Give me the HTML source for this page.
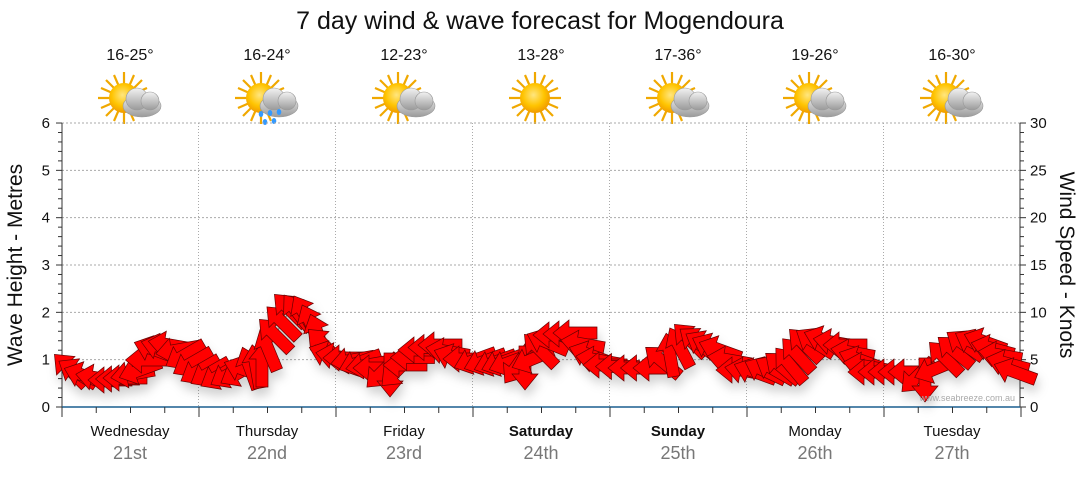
<!DOCTYPE html>
<html><head><meta charset="utf-8"><style>
body{margin:0;background:#fff;width:1080px;height:475px;overflow:hidden;font-family:"Liberation Sans",sans-serif}
</style></head><body>
<svg id="s" width="1080" height="475" xmlns="http://www.w3.org/2000/svg" font-family="Liberation Sans, sans-serif">
<defs>
<filter id="sh" x="-50%" y="-50%" width="200%" height="200%"><feDropShadow dx="2" dy="7" stdDeviation="5" flood-color="#000" flood-opacity="0.18"/></filter>
<radialGradient id="sun" cx="45%" cy="40%" r="60%"><stop offset="0" stop-color="#ffe680"/><stop offset="0.6" stop-color="#ffc400"/><stop offset="1" stop-color="#f09a00"/></radialGradient>
<linearGradient id="cl" x1="0" y1="0" x2="0" y2="1"><stop offset="0" stop-color="#f2f2f2"/><stop offset="1" stop-color="#9a9a9a"/></linearGradient>
<g id="sunI"><g stroke="#f0a800" stroke-width="2.2">
<line x1="-26" y1="0" x2="26" y2="0"/><line x1="0" y1="-26" x2="0" y2="26"/><line x1="-18" y1="-18" x2="18" y2="18"/><line x1="-18" y1="18" x2="18" y2="-18"/>
<line x1="-23" y1="-10" x2="23" y2="10"/><line x1="-23" y1="10" x2="23" y2="-10"/><line x1="-10" y1="-23" x2="10" y2="23"/><line x1="-10" y1="23" x2="10" y2="-23"/></g>
<circle r="15" fill="url(#sun)"/></g>
<g id="cloud"><g fill="url(#cl)" stroke="#999" stroke-width="0.6"><ellipse cx="6" cy="6" rx="19" ry="11"/><circle cx="1" cy="-1" r="11"/><circle cx="14" cy="1" r="9"/></g></g>
</defs>
<text x="540" y="29" text-anchor="middle" font-size="25" fill="#111">7 day wind &amp; wave forecast for Mogendoura</text>
<g id="wx" font-size="16" fill="#111" text-anchor="middle"></g>
<g id="grid"></g>
<g id="arrows" filter="url(#sh)"></g>
<text x="1015" y="401" text-anchor="end" font-size="9" fill="#aaa">www.seabreeze.com.au</text>
<text transform="translate(22,265) rotate(-90)" text-anchor="middle" font-size="21" fill="#111">Wave Height - Metres</text>
<text transform="translate(1060,265) rotate(90)" text-anchor="middle" font-size="21" fill="#111">Wind Speed - Knots</text>
</svg>
<script>
var NS="http://www.w3.org/2000/svg";
function el(p,t,a,txt){var e=document.createElementNS(NS,t);for(var k in a)e.setAttribute(k,a[k]);if(txt!=null)e.textContent=txt;p.appendChild(e);return e;}
var g=document.getElementById('grid'),wx=document.getElementById('wx');
var L=62,R=1020,Y0=407,M=47.33,D=137;
for(var i=1;i<=6;i++)el(g,'line',{x1:L,x2:R,y1:Y0-i*M,y2:Y0-i*M,stroke:'#aaa','stroke-dasharray':'2,2','stroke-width':1});
for(var d=1;d<7;d++)el(g,'line',{x1:L+d*D-0.5,x2:L+d*D-0.5,y1:123,y2:Y0,stroke:'#aaa','stroke-dasharray':'1,2','stroke-width':1});
el(g,'line',{x1:L,x2:L,y1:123,y2:Y0,stroke:'#333'});
el(g,'line',{x1:R,x2:R,y1:123,y2:Y0,stroke:'#333'});
for(var i=0;i<=30;i++){var y=Y0-i*M/5;var mj=i%5==0;
el(g,'line',{x1:L-(mj?6:4),x2:L,y1:y,y2:y,stroke:'#333'});
el(g,'line',{x1:R,x2:R+(mj?6:4),y1:y,y2:y,stroke:'#333'});
if(mj){el(g,'text',{x:50,y:y+5,'text-anchor':'end','font-size':15,fill:'#111'},i/5);
el(g,'text',{x:1030,y:y+5,'font-size':15,fill:'#111'},i);}}
el(g,'line',{x1:L,x2:R,y1:Y0,y2:Y0,stroke:'#1a5f8f','stroke-width':1.5});
for(var i=0;i<=28;i++){var x=L+i*D/4;el(g,'line',{x1:x,x2:x,y1:Y0,y2:Y0+(i%4==0?10:6),stroke:'#333'});}
var days=['Wednesday','Thursday','Friday','Saturday','Sunday','Monday','Tuesday'],dt=['21st','22nd','23rd','24th','25th','26th','27th'],tp=['16-25°','16-24°','12-23°','13-28°','17-36°','19-26°','16-30°'];
for(var d=0;d<7;d++){var cx=L+d*D+68;
el(g,'text',{x:cx,y:436,'text-anchor':'middle','font-size':15,fill:'#111','font-weight':(d==3||d==4)?'bold':'normal'},days[d]);
el(g,'text',{x:cx,y:459,'text-anchor':'middle','font-size':18,fill:'#777'},dt[d]);
el(wx,'text',{x:cx,y:60},tp[d]);
el(wx,'use',{href:'#sunI',x:cx-6,y:98});
if(d!=3)el(wx,'use',{href:'#cloud',x:cx+6,y:100});
if(d==1){var dr=[[-6,114],[3,113],[12,112],[-2,122],[7,121]];dr.forEach(function(q){el(wx,'ellipse',{cx:cx+q[0],cy:q[1],rx:2.3,ry:3,fill:'#39f'});});}
}
var kp=[[70,370,225],[85,376,200],[110,380,180],[125,378,180],[140,370,160],[155,350,200],[170,345,190],[185,355,150],[200,370,150],[220,375,150],[240,372,150],[250,368,250],[262,365,270],[275,335,225],[290,310,225],[305,315,240],[318,335,250],[330,355,200],[345,358,180],[360,362,160],[375,368,180],[390,375,90],[405,365,180],[420,350,180],[440,345,180],[455,358,200],[475,360,160],[495,362,160],[510,362,160],[525,368,90],[540,350,225],[555,335,180],[575,333,180],[590,355,200],[605,365,180],[630,368,180],[655,368,180],[670,355,260],[690,340,225],[705,345,210],[720,350,200],[738,370,180],[755,372,200],[775,370,210],[790,365,230],[805,345,225],[825,340,200],[845,345,180],[860,360,200],[870,372,180],[890,372,180],[910,372,180],[925,380,90],[945,358,225],[965,345,215],[985,342,200],[1000,355,190],[1015,372,200]];
var pts=[];for(var i=0;i<kp.length;i++){pts.push(kp[i]);if(i<kp.length-1){var a=kp[i],b=kp[i+1];pts.push([(a[0]+b[0])/2,(a[1]+b[1])/2,(a[2]+b[2])/2]);}}
var ln='';pts.forEach(function(p,i){ln+=(i?'L':'M')+p[0]+' '+p[1];});
var A=document.getElementById('arrows');
el(g,'path',{d:ln,fill:'none',stroke:'#999','stroke-width':1});
pts.forEach(function(p){el(A,'polygon',{points:'-22,-6 6,-6 6,-13 22,0 6,13 6,6 -22,6',fill:'#ff0000',stroke:'#600','stroke-width':0.7,transform:'translate('+p[0]+','+p[1]+') rotate('+p[2]+')'});});
</script>
</body></html>
